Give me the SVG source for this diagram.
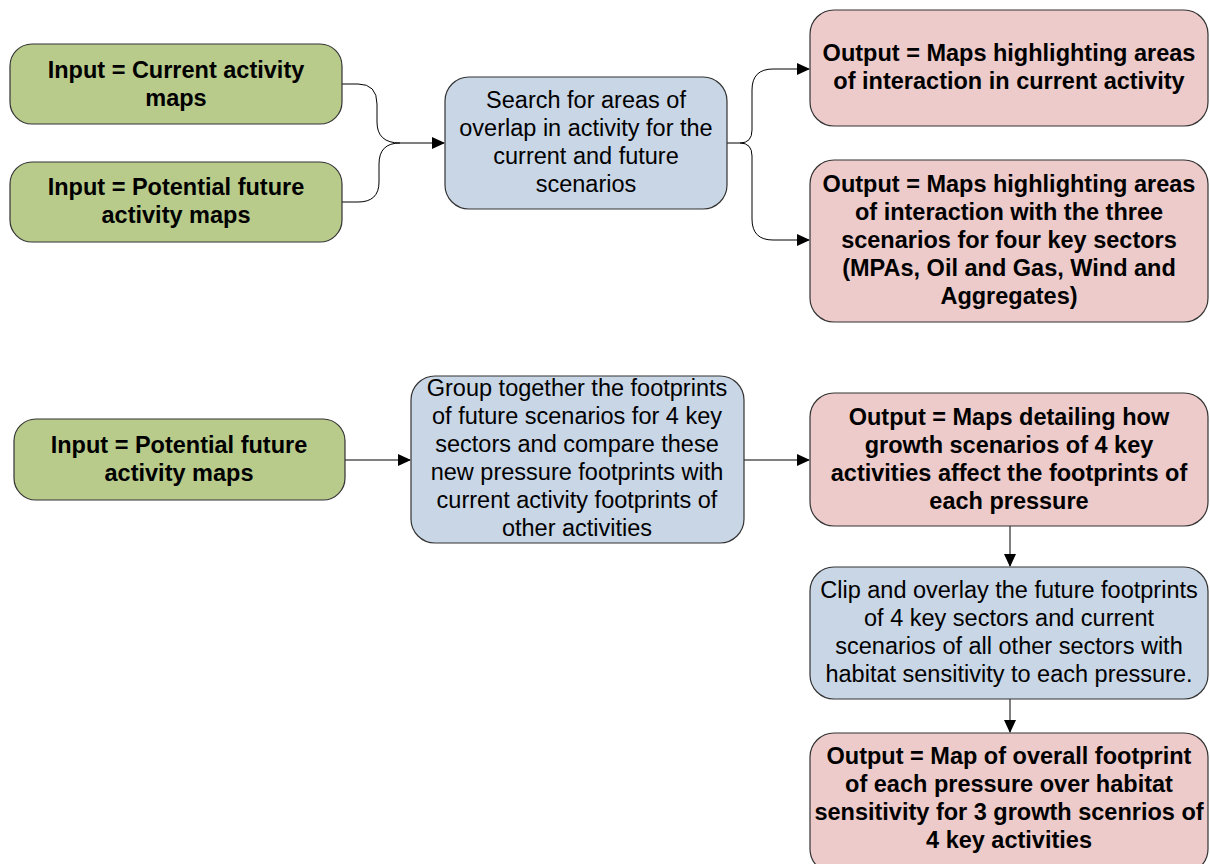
<svg xmlns="http://www.w3.org/2000/svg" width="1210" height="864" viewBox="0 0 1210 864">
<defs>
<marker id="arr" markerWidth="13" markerHeight="12" refX="12" refY="6" orient="auto" markerUnits="userSpaceOnUse">
<path d="M0,0 L13,6 L0,12 Z" fill="#000"/>
</marker>
<style>
.box{stroke:#333;stroke-width:1.2}
.g{fill:#b8cb8b}
.b{fill:#c9d6e6}
.p{fill:#edcbca}
.tb{font-family:"Liberation Sans",Arial,sans-serif;font-size:23.5px;font-weight:bold;text-anchor:middle;fill:#000}
.tr{font-family:"Liberation Sans",Arial,sans-serif;font-size:23.5px;text-anchor:middle;fill:#000}
.c{fill:none;stroke:#000;stroke-width:1}
</style>
</defs>
<rect width="1210" height="864" fill="#fff"/>
<g id="connectors">
<path class="c" d="M342,84 H358 Q377,84 377,104 V122 Q377,143 400,143 H444" marker-end="url(#arr)"/>
<path class="c" d="M342,202 H358 Q379,202 379,182 V164 Q379,143 400,143"/>
<path class="c" d="M727,143 H740 Q752,143 752,130 V90 Q752,69 773,69 H809" marker-end="url(#arr)"/>
<path class="c" d="M740,143 Q752,143 752,156 V219 Q752,240 773,240 H809" marker-end="url(#arr)"/>
<path class="c" d="M345,460 H410" marker-end="url(#arr)"/>
<path class="c" d="M744,460 H809" marker-end="url(#arr)"/>
<path class="c" d="M1010,526 V566" marker-end="url(#arr)"/>
<path class="c" d="M1010,699 V732" marker-end="url(#arr)"/>
</g>
<g id="n1">
<rect class="box g" x="10" y="44" width="332" height="80" rx="22"/>
<text class="tb" x="176" y="78">Input = Current activity</text>
<text class="tb" x="176" y="106">maps</text>
</g>
<g id="n2">
<rect class="box g" x="10" y="162" width="332" height="80" rx="22"/>
<text class="tb" x="176" y="195">Input = Potential future</text>
<text class="tb" x="176" y="223">activity maps</text>
</g>
<g id="n3">
<rect class="box b" x="445" y="77" width="282" height="132" rx="24"/>
<text class="tr" x="586" y="108">Search for areas of</text>
<text class="tr" x="586" y="136">overlap in activity for the</text>
<text class="tr" x="586" y="164">current and future</text>
<text class="tr" x="586" y="192">scenarios</text>
</g>
<g id="n4">
<rect class="box p" x="810" y="10" width="398" height="116" rx="24"/>
<text class="tb" x="1009" y="61">Output = Maps highlighting areas</text>
<text class="tb" x="1009" y="89">of interaction in current activity</text>
</g>
<g id="n5">
<rect class="box p" x="810" y="160" width="398" height="162" rx="24"/>
<text class="tb" x="1009" y="192">Output = Maps highlighting areas</text>
<text class="tb" x="1009" y="220">of interaction with the three</text>
<text class="tb" x="1009" y="248">scenarios for four key sectors</text>
<text class="tb" x="1009" y="276">(MPAs, Oil and Gas, Wind and</text>
<text class="tb" x="1009" y="304">Aggregates)</text>
</g>
<g id="n6">
<rect class="box g" x="14" y="419" width="331" height="81" rx="22"/>
<text class="tb" x="179" y="453">Input = Potential future</text>
<text class="tb" x="179" y="481">activity maps</text>
</g>
<g id="n7">
<rect class="box b" x="411" y="376" width="333" height="167" rx="24"/>
<text class="tr" x="577" y="396">Group together the footprints</text>
<text class="tr" x="577" y="424">of future scenarios for 4 key</text>
<text class="tr" x="577" y="452">sectors and compare these</text>
<text class="tr" x="577" y="480">new pressure footprints with</text>
<text class="tr" x="577" y="508">current activity footprints of</text>
<text class="tr" x="577" y="536">other activities</text>
</g>
<g id="n8">
<rect class="box p" x="810" y="393" width="398" height="133" rx="24"/>
<text class="tb" x="1009" y="425">Output = Maps detailing how</text>
<text class="tb" x="1009" y="453">growth scenarios of 4 key</text>
<text class="tb" x="1009" y="481">activities affect the footprints of</text>
<text class="tb" x="1009" y="509">each pressure</text>
</g>
<g id="n9">
<rect class="box b" x="810" y="567" width="398" height="132" rx="24"/>
<text class="tr" x="1009" y="598">Clip and overlay the future footprints</text>
<text class="tr" x="1009" y="626">of 4 key sectors and current</text>
<text class="tr" x="1009" y="654">scenarios of all other sectors with</text>
<text class="tr" x="1009" y="682">habitat sensitivity to each pressure.</text>
</g>
<g id="n10">
<rect class="box p" x="810" y="733" width="398" height="140" rx="24"/>
<text class="tb" x="1009" y="764">Output = Map of overall footprint</text>
<text class="tb" x="1009" y="792">of each pressure over habitat</text>
<text class="tb" x="1009" y="820">sensitivity for 3 growth scenrios of</text>
<text class="tb" x="1009" y="848">4 key activities</text>
</g>
</svg>
